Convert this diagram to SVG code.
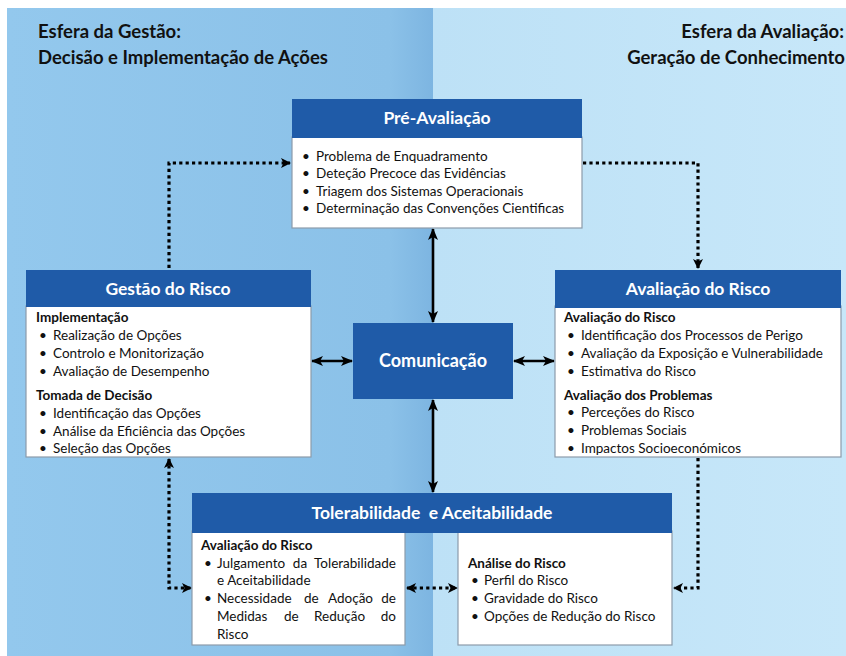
<svg xmlns="http://www.w3.org/2000/svg" width="846" height="656" viewBox="0 0 846 656">
  <defs>
    <linearGradient id="bgLeft" x1="0" y1="0" x2="1" y2="0">
      <stop offset="0" stop-color="#93c8ed"/>
      <stop offset="0.9" stop-color="#8bc1e8"/>
      <stop offset="1" stop-color="#7db5e1"/>
    </linearGradient>
    <linearGradient id="bgRight" x1="0" y1="0" x2="1" y2="0">
      <stop offset="0" stop-color="#bde1f6"/>
      <stop offset="1" stop-color="#c7e7f9"/>
    </linearGradient>
    <marker id="solidHead" viewBox="0 0 12 10" refX="11" refY="5" markerWidth="12" markerHeight="10" markerUnits="userSpaceOnUse" orient="auto-start-reverse">
      <path d="M0,0 L12,5 L0,10 L3,5 z" fill="#000"/>
    </marker>
    <marker id="dotHead" viewBox="0 0 10 10" refX="9" refY="5" markerWidth="10" markerHeight="10" markerUnits="userSpaceOnUse" orient="auto-start-reverse">
      <path d="M0,0 L10,5 L0,10 L2.5,5 z" fill="#000"/>
    </marker>
  </defs>
  <style>
    .hdr { fill: #1f5ba8; }
    .body { fill: #ffffff; stroke: #8c9bab; stroke-width: 1.2; }
    .ht { font-family: Lato, "Liberation Sans", sans-serif; font-weight: bold; font-size: 17.5px; fill: #ffffff; text-anchor: middle; }
    .t { font-family: Lato, "Liberation Sans", sans-serif; font-size: 13.5px; fill: #111111; }
    .tb { font-family: Lato, "Liberation Sans", sans-serif; font-size: 13.5px; font-weight: bold; fill: #111111; }
    .title { font-family: Lato, "Liberation Sans", sans-serif; font-size: 18.5px; font-weight: bold; fill: #111111; }
    .end { text-anchor: end; }
    .solid { fill: none; stroke: #000; stroke-width: 2.6; }
    .dots { fill: none; stroke: #000; stroke-width: 3.2; stroke-dasharray: 3.2 3.2; }
  </style>

  <!-- background: two spheres -->
  <rect x="0" y="0" width="846" height="656" fill="#ffffff"/>
  <rect x="7" y="8" width="426" height="648" fill="url(#bgLeft)"/>
  <rect x="433" y="8" width="413" height="648" fill="url(#bgRight)"/>

  <!-- sphere titles -->
  <g id="title-left">
    <text class="title" x="38" y="38">Esfera da Gestão:</text>
    <text class="title" x="38" y="64">Decisão e Implementação de Ações</text>
  </g>
  <g id="title-right">
    <text class="title end" x="844" y="38">Esfera da Avaliação:</text>
    <text class="title end" x="845" y="64">Geração de Conhecimento</text>
  </g>

  <!-- connectors -->
  <g id="connectors">
    <!-- dotted flows around the cycle -->
    <path class="dots" d="M169,268 V163 H290" marker-end="url(#dotHead)"/>
    <path class="dots" d="M583,163 H698 V268" marker-end="url(#dotHead)"/>
    <path class="dots" d="M698,458 V588 H674" marker-end="url(#dotHead)"/>
    <path class="dots" d="M169,459 V588 H191" marker-start="url(#dotHead)" marker-end="url(#dotHead)"/>
    <path class="dots" d="M407,588 H457" marker-start="url(#dotHead)" marker-end="url(#dotHead)"/>
    <!-- communication links -->
    <path class="solid" d="M433,229 V322" marker-start="url(#solidHead)" marker-end="url(#solidHead)"/>
    <path class="solid" d="M433,400 V492" marker-start="url(#solidHead)" marker-end="url(#solidHead)"/>
    <path class="solid" d="M312,361 H352" marker-start="url(#solidHead)" marker-end="url(#solidHead)"/>
    <path class="solid" d="M514,361 H554" marker-start="url(#solidHead)" marker-end="url(#solidHead)"/>
  </g>

  <!-- Pre-assessment -->
  <g id="pre-avaliacao">
    <rect class="body" x="292" y="137" width="290" height="91"/>
    <rect class="hdr" x="292" y="99" width="290" height="39"/>
    <text class="ht" x="437" y="124">Pré-Avaliação</text>
    <text class="t" x="302" y="161">•</text><text class="t" x="316" y="161">Problema de Enquadramento</text>
    <text class="t" x="302" y="178">•</text><text class="t" x="316" y="178">Deteção Precoce das Evidências</text>
    <text class="t" x="302" y="196">•</text><text class="t" x="316" y="196">Triagem dos Sistemas Operacionais</text>
    <text class="t" x="302" y="213">•</text><text class="t" x="316" y="213">Determinação das Convenções Cientificas</text>
  </g>

  <!-- Risk management -->
  <g id="gestao-risco">
    <rect class="body" x="26" y="306" width="285" height="151"/>
    <rect class="hdr" x="26" y="270" width="285" height="37"/>
    <text class="ht" x="168" y="295">Gestão do Risco</text>
    <text class="tb" x="36" y="322">Implementação</text>
    <text class="t" x="39" y="340">•</text><text class="t" x="53" y="340">Realização de Opções</text>
    <text class="t" x="39" y="358">•</text><text class="t" x="53" y="358">Controlo e Monitorização</text>
    <text class="t" x="39" y="376">•</text><text class="t" x="53" y="376">Avaliação de Desempenho</text>
    <text class="tb" x="36" y="400">Tomada de Decisão</text>
    <text class="t" x="39" y="418">•</text><text class="t" x="53" y="418">Identificação das Opções</text>
    <text class="t" x="39" y="436">•</text><text class="t" x="53" y="436">Análise da Eficiência das Opções</text>
    <text class="t" x="39" y="453">•</text><text class="t" x="53" y="453">Seleção das Opções</text>
  </g>

  <!-- Communication -->
  <g id="comunicacao">
    <rect class="hdr" x="353" y="323" width="160" height="76"/>
    <text class="ht" x="433" y="367" style="font-size:18px">Comunicação</text>
  </g>

  <!-- Risk appraisal -->
  <g id="avaliacao-risco">
    <rect class="body" x="555" y="306" width="286" height="151"/>
    <rect class="hdr" x="555" y="270" width="286" height="38"/>
    <text class="ht" x="698" y="295">Avaliação do Risco</text>
    <text class="tb" x="564" y="322">Avaliação do Risco</text>
    <text class="t" x="567" y="340">•</text><text class="t" x="581" y="340">Identificação dos Processos de Perigo</text>
    <text class="t" x="567" y="358">•</text><text class="t" x="581" y="358">Avaliação da Exposição e Vulnerabilidade</text>
    <text class="t" x="567" y="376">•</text><text class="t" x="581" y="376">Estimativa do Risco</text>
    <text class="tb" x="564" y="400">Avaliação dos Problemas</text>
    <text class="t" x="567" y="417">•</text><text class="t" x="581" y="417">Perceções do Risco</text>
    <text class="t" x="567" y="435">•</text><text class="t" x="581" y="435">Problemas Sociais</text>
    <text class="t" x="567" y="453">•</text><text class="t" x="581" y="453">Impactos Socioeconómicos</text>
  </g>

  <!-- Tolerability and acceptability -->
  <g id="tolerabilidade">
    <rect class="body" x="192" y="531" width="213" height="114"/>
    <rect class="body" x="458" y="531" width="214" height="114"/>
    <rect class="hdr" x="192" y="493" width="480" height="40"/>
    <text class="ht" x="432" y="519" xml:space="preserve">Tolerabilidade  e Aceitabilidade</text>
    <text class="tb" x="201" y="550">Avaliação do Risco</text>
    <!-- justified paragraph: words placed one by one -->
    <text class="t" x="204" y="568">•</text>
    <text class="t" x="217" y="568">Julgamento</text>
    <text class="t" x="300" y="568" text-anchor="middle">da</text>
    <text class="t end" x="396" y="568">Tolerabilidade</text>
    <text class="t" x="217" y="585">e Aceitabilidade</text>
    <text class="t" x="204" y="603">•</text>
    <text class="t" x="217" y="603">Necessidade</text>
    <text class="t" x="304" y="603">de</text>
    <text class="t" x="328" y="603">Adoção</text>
    <text class="t end" x="396" y="603">de</text>
    <text class="t" x="217" y="621">Medidas</text>
    <text class="t" x="284" y="621">de</text>
    <text class="t" x="314" y="621">Redução</text>
    <text class="t end" x="396" y="621">do</text>
    <text class="t" x="217" y="639">Risco</text>
    <text class="tb" x="468" y="568">Análise do Risco</text>
    <text class="t" x="471" y="585">•</text><text class="t" x="484" y="585">Perfil do Risco</text>
    <text class="t" x="471" y="603">•</text><text class="t" x="484" y="603">Gravidade do Risco</text>
    <text class="t" x="471" y="621">•</text><text class="t" x="484" y="621">Opções de Redução do Risco</text>
  </g>
</svg>
